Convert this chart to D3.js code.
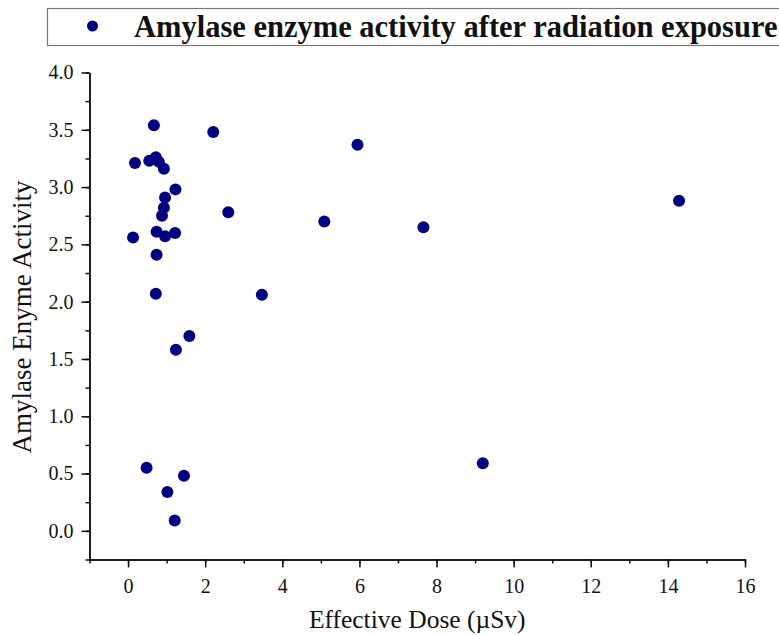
<!DOCTYPE html>
<html>
<head>
<meta charset="utf-8">
<script src="https://cdn.jsdelivr.net/npm/d3@7"></script>
<style>
  body { margin: 0; background: #fff; }
  svg { display: block; }
  .axis text { font-family: "Liberation Serif", "Times New Roman", serif; font-size: 20px; fill: #111; }
  .axis path, .axis line { stroke: #111; stroke-width: 1.5; }
</style>
</head>
<body>
<div id="chart"></div>
<script>
// effective dose (uSv) and amylase activity
const dose = [0.67, 2.21, 0.18, 0.55, 0.72, 0.80, 0.93, 1.23, 0.96, 0.93,
  0.88, 0.13, 0.74, 0.96, 1.22, 0.74, 0.72, 1.59, 1.24, 0.48,
  1.45, 1.02, 1.21, 5.95, 2.60, 5.09, 7.66, 3.47, 9.20, 14.29]
const activity = [3.54, 3.48, 3.21, 3.23, 3.26, 3.22, 3.16, 2.98, 2.91, 2.82,
  2.75, 2.56, 2.61, 2.57, 2.60, 2.41, 2.07, 1.70, 1.58, 0.55,
  0.48, 0.34, 0.09, 3.37, 2.78, 2.70, 2.65, 2.06, 0.59, 2.88]
const xTicks = [0, 2, 4, 6, 8, 10, 12, 14, 16]
const yTicks = [0.0, 0.5, 1.0, 1.5, 2.0, 2.5, 3.0, 3.5, 4.0]
const seriesName = "Amylase enzyme activity after radiation exposure"
const xTitle = "Effective Dose (\u00b5Sv)"
const yTitle = "Amylase Enyme Activity"

const width = 779, height = 635
const dotColor = "#000080"

const svg = d3.select("#chart").append("svg")
  .attr("width", width)
  .attr("height", height)

const x = d3.scaleLinear().domain([-1, 16]).range([89.5, 745])
const y = d3.scaleLinear().domain([-0.25, 4]).range([559.5, 72.5])

// minor ticks first, majors on top
svg.append("g")
  .attr("class", "axis")
  .attr("transform", "translate(0," + y(-0.25) + ")")
  .call(d3.axisBottom(x).tickValues(d3.range(-1, 17, 1)).tickSize(4).tickSizeOuter(0).tickFormat(""))
svg.append("g")
  .attr("class", "axis")
  .attr("transform", "translate(0," + y(-0.25) + ")")
  .call(d3.axisBottom(x).tickValues(xTicks).tickSize(8).tickSizeOuter(0).tickPadding(11))

svg.append("g")
  .attr("class", "axis")
  .attr("transform", "translate(" + x(-1) + ",0)")
  .call(d3.axisLeft(y).tickValues(d3.range(-0.25, 4.01, 0.25)).tickSize(4).tickSizeOuter(0).tickFormat(""))
svg.append("g")
  .attr("class", "axis")
  .attr("transform", "translate(" + x(-1) + ",0)")
  .call(d3.axisLeft(y).tickValues(yTicks).tickSize(8).tickSizeOuter(0).tickPadding(8).tickFormat(d3.format(".1f")))

// axis titles
svg.append("text")
  .attr("x", (x(-1) + x(16)) / 2)
  .attr("y", 628)
  .attr("text-anchor", "middle")
  .style("font-family", "'Liberation Serif', 'Times New Roman', serif")
  .style("font-size", "25.5px")
  .style("fill", "#111")
  .text(xTitle)

svg.append("text")
  .attr("transform", "translate(31," + 317 + ") rotate(-90)")
  .attr("text-anchor", "middle")
  .style("font-family", "'Liberation Serif', 'Times New Roman', serif")
  .style("font-size", "27px")
  .style("fill", "#111")
  .text(yTitle)

// points
const data = dose.map((d, i) => ({ dose: d, value: activity[i] }))
svg.append("g").selectAll("circle")
  .data(data)
  .enter().append("circle")
    .attr("cx", d => x(d.dose))
    .attr("cy", d => y(d.value))
    .attr("r", 6)
    .style("fill", dotColor)

// legend box, runs off the right edge like the original
const legend = svg.append("g")
legend.append("rect")
  .attr("x", 47.5).attr("y", 8.5)
  .attr("width", 760).attr("height", 37)
  .style("fill", "#fff")
  .style("stroke", "#777")
  .style("stroke-width", 1.2)
legend.append("circle")
  .attr("cx", 92.5).attr("cy", 26)
  .attr("r", 5.5)
  .style("fill", dotColor)
legend.append("text")
  .attr("x", 134).attr("y", 37)
  .style("font-family", "'Liberation Serif', 'Times New Roman', serif")
  .style("font-weight", "bold")
  .style("font-size", "30.5px")
  .style("fill", "#111")
  .text(seriesName)
</script>
</body>
</html>
